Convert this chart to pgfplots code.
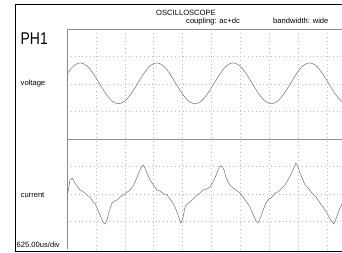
\documentclass[border=0pt]{standalone}
\usepackage{pgfplots}
\pgfplotsset{compat=1.18}
\usepackage{fontspec}
\setmainfont{Liberation Sans}
\definecolor{trace}{gray}{0.5}
\definecolor{border}{gray}{0.55}
\definecolor{gridc}{gray}{0.72}
\begin{document}
\begin{tikzpicture}[x=1pt,y=1pt]
\useasboundingbox (0,0) rectangle (342,253);
\begin{axis}[
  at={(67pt,4pt)}, anchor=south west,
  scale only axis, width=275pt, height=220pt,
  xmin=0, xmax=9.516, ymin=0, ymax=8,
  axis line style={draw=none},
  xtick={1,2,3,4,5,6,7,8,9}, ytick={1,2,3,5,6,7},
  xticklabels={}, yticklabels={},
  major tick length=0pt,
  grid=major,
  major grid style={gridc, line width=0.45pt, dash pattern=on 0.45pt off 3.4pt},
]
% borders
\draw[border, line width=0.6pt] (rel axis cs:0,0) -- (rel axis cs:0,1) -- (rel axis cs:1,1);
\draw[border, line width=0.6pt] (axis cs:0,4) -- (axis cs:9.516,4);
% voltage
\addplot[trace, line width=0.6pt, no marks] coordinates {(0,5.96) (0.019,6.39)};
\addplot[trace, line width=0.6pt, no marks, smooth] coordinates {
(0.019,6.39) (0.240,6.67) (0.460,6.77) (0.681,6.67) (0.901,6.39) (1.121,6.02)
(1.342,5.65) (1.562,5.38) (1.782,5.28) (2.003,5.38) (2.223,5.65) (2.444,6.02)
(2.664,6.39) (2.884,6.67) (3.105,6.77) (3.325,6.67) (3.545,6.39) (3.766,6.02)
(3.986,5.65) (4.207,5.38) (4.427,5.28) (4.647,5.38) (4.868,5.65) (5.088,6.02)
(5.309,6.39) (5.529,6.67) (5.749,6.77) (5.970,6.67) (6.190,6.39) (6.410,6.02)
(6.631,5.65) (6.851,5.38) (7.072,5.28) (7.292,5.38) (7.512,5.65) (7.733,6.02)
(7.953,6.39) (8.174,6.67) (8.394,6.77) (8.614,6.67) (8.835,6.39) (9.055,6.02)
(9.275,5.65) (9.496,5.38) (9.716,5.28)};
% current
\addplot[trace, line width=0.6pt, no marks] coordinates {
(0,1.345) (0.017,1.964) (0.104,2.509) (0.173,2.582) (0.277,2.40) (0.346,2.291)
(0.450,2.145) (0.519,2.109) (0.623,2.036) (0.727,1.927) (0.796,1.891) (0.900,1.709)
(0.969,1.673) (1.038,1.491) (1.142,1.236) (1.246,0.982) (1.315,0.909) (1.384,1.055)
(1.453,1.345) (1.557,1.673) (1.661,1.745) (1.730,1.782) (1.834,1.891) (1.938,1.964)
(2.042,2.036) (2.180,2.145) (2.284,2.291) (2.353,2.436) (2.457,2.691) (2.526,2.873)
(2.630,3.055) (2.699,2.945) (2.768,2.764) (2.872,2.509) (2.941,2.40) (3.045,2.255)
(3.114,2.145) (3.218,2.109) (3.356,2.00) (3.460,1.964) (3.564,1.818) (3.668,1.673)
(3.737,1.527) (3.806,1.345) (3.875,1.127) (3.945,0.945) (4.014,1.127) (4.083,1.527)
(4.152,1.636) (4.256,1.709) (4.360,1.818) (4.498,1.964) (4.602,2.036) (4.706,2.145)
(4.844,2.182) (4.948,2.255) (5.052,2.436) (5.121,2.582) (5.225,2.873) (5.294,3.018)
(5.363,3.018) (5.433,2.873) (5.502,2.618) (5.571,2.436) (5.640,2.327) (5.744,2.218)
(5.848,2.145) (5.986,2.036) (6.090,1.891) (6.194,1.745) (6.332,1.527) (6.436,1.273)
(6.540,1.018) (6.609,0.945) (6.678,1.091) (6.782,1.418) (6.886,1.673) (6.955,1.782)
(7.093,1.891) (7.197,2.036) (7.301,2.073) (7.439,2.218) (7.543,2.327) (7.647,2.509)
(7.751,2.727) (7.820,2.873) (7.924,3.127) (7.993,2.982) (8.062,2.764) (8.166,2.509)
(8.235,2.327) (8.339,2.218) (8.478,2.036) (8.616,1.891) (8.754,1.673) (8.858,1.527)
(8.997,1.309) (9.100,1.091) (9.239,0.909) (9.343,1.200) (9.446,1.491) (9.550,1.709)};
\end{axis}
% outer frame
\draw[black, line width=1.6pt] (343,248.3) -- (15.5,248.3) -- (15.5,1.3) -- (343,1.3);
% texts
\node[anchor=base, inner sep=0pt, font=\fontsize{7.6}{8}\selectfont] at (186,237) {OSCILLOSCOPE};
\node[anchor=base west, inner sep=0pt, font=\fontsize{7.6}{8}\selectfont] at (186,229) {coupling: ac+dc};
\node[anchor=base west, inner sep=0pt, font=\fontsize{7.6}{8}\selectfont] at (273,229) {bandwidth: wide};
\node[anchor=base west, inner sep=0pt, font=\fontsize{17}{17}\selectfont] at (20.5,208) {\scalebox{0.82}[1]{PH1}};
\node[anchor=base west, inner sep=0pt, font=\fontsize{7.6}{8}\selectfont] at (20.5,167) {voltage};
\node[anchor=base west, inner sep=0pt, font=\fontsize{7.6}{8}\selectfont] at (20.5,55) {current};
\node[anchor=base west, inner sep=0pt, font=\fontsize{7.6}{8}\selectfont] at (16.5,5) {625.00us/div};
\end{tikzpicture}
\end{document}
